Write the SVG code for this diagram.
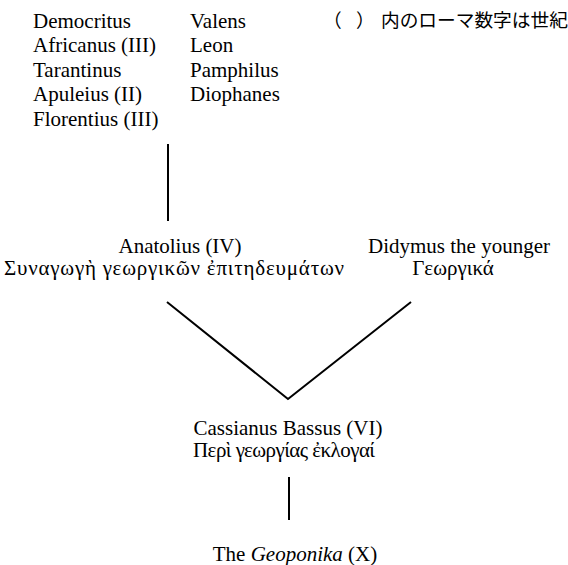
<svg xmlns="http://www.w3.org/2000/svg" width="568" height="565" viewBox="0 0 568 565">
<style>
text{font-family:"Liberation Serif","Times New Roman",serif;font-size:21px;fill:#000}
.jp{font-family:"Liberation Serif","Noto Sans CJK JP",serif;font-size:18.7px}
.c{text-anchor:middle}
.ln{stroke:#000;stroke-width:2;fill:none}
</style>
<rect width="568" height="565" fill="#fff"/>
<g id="connectors">
<line class="ln" x1="168" y1="144" x2="168" y2="221"/>
<polyline class="ln" points="167,302 288,399 411,302"/>
<line class="ln" x1="289" y1="477" x2="289" y2="520"/>
</g>
<g id="sources">
<text x="33" y="28">Democritus</text>
<text x="33" y="52.4">Africanus (III)</text>
<text x="33" y="76.8">Tarantinus</text>
<text x="33" y="101.2">Apuleius (II)</text>
<text x="33" y="125.6">Florentius (III)</text>
<text x="190" y="28">Valens</text>
<text x="190" y="52.4">Leon</text>
<text x="190" y="76.8">Pamphilus</text>
<text x="190" y="101.2">Diophanes</text>
</g>
<g id="legend">
<text class="jp" y="27"><tspan x="323">（</tspan><tspan x="356">）</tspan><tspan x="381">内のローマ数字は世紀</tspan></text>
</g>
<g id="anatolius">
<text class="c" x="180" y="253">Anatolius (IV)</text>
<text class="c" x="174" y="275" textLength="340" lengthAdjust="spacing">Συναγωγὴ γεωργικῶν ἐπιτηδευμάτων</text>
</g>
<g id="didymus">
<text class="c" x="459" y="253">Didymus the younger</text>
<text class="c" x="453" y="275">Γεωργικά</text>
</g>
<g id="cassianus">
<text class="c" x="288" y="435">Cassianus Bassus (VI)</text>
<text class="c" x="284" y="457" textLength="182" lengthAdjust="spacing">Περὶ γεωργίας ἐκλογαί</text>
</g>
<g id="geoponika">
<text class="c" x="295" y="561">The <tspan font-style="italic">Geoponika</tspan> (X)</text>
</g>
</svg>
